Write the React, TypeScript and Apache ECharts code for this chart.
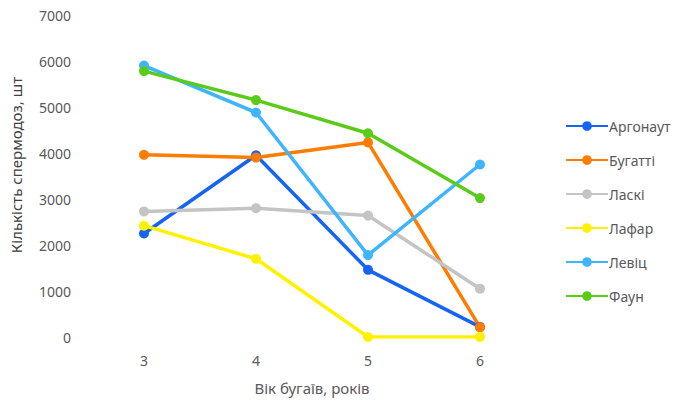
import React, { useEffect, useRef } from "react";
import * as echarts from "echarts";

const categories = ["3", "4", "5", "6"];
const seriesNames = ["Аргонаут", "Бугатті", "Ласкі", "Лафар", "Левіц", "Фаун"];
const argonaut = [2250, 3950, 1460, 220];
const bugatti = [3960, 3900, 4230, 210];
const laski = [2730, 2800, 2640, 1050];
const lafar = [2420, 1700, 0, 0];
const levits = [5900, 4880, 1780, 3750];
const faun = [5780, 5150, 4430, 3020];
const seriesData = [argonaut, bugatti, laski, lafar, levits, faun];
const colors = ["#1565F2", "#FF7C00", "#C4C4C4", "#FFF200", "#3DB5FF", "#5BCB1A"];

const FONT = "'Noto Sans', sans-serif";

export default function App() {
  const ref = useRef<HTMLDivElement>(null);
  useEffect(() => {
    if (!ref.current) return;
    const chart = echarts.init(ref.current, null, { renderer: "svg" });
    chart.setOption({
      animation: false,
      backgroundColor: "#ffffff",
      textStyle: { fontFamily: FONT },
      grid: { left: 88, right: 145, top: 15, bottom: 66, containLabel: false },
      legend: {
        orient: "vertical",
        left: 560,
        top: 114,
        itemWidth: 42,
        itemHeight: 12,
        itemGap: 20,
        textStyle: { fontFamily: FONT, fontSize: 14, color: "#595959", padding: [0, 0, 0, -4] },
        data: seriesNames,
      },
      xAxis: {
        type: "category",
        data: categories,
        boundaryGap: true,
        axisLine: { show: false },
        axisTick: { show: false },
        axisLabel: { color: "#595959", fontSize: 14, margin: 16, fontFamily: FONT },
        name: "Вік бугаїв, років",
        nameLocation: "middle",
        nameGap: 43,
        nameTextStyle: { color: "#595959", fontSize: 15, fontFamily: FONT },
      },
      yAxis: {
        type: "value",
        min: 0,
        max: 7000,
        interval: 1000,
        splitLine: { show: false },
        axisLine: { show: false },
        axisTick: { show: false },
        axisLabel: {
          color: "#595959",
          fontSize: 14,
          margin: 17,
          fontFamily: FONT,
          formatter: (v: number) => String(v),
        },
      },
      graphic: [
        {
          type: "text",
          x: 16,
          y: 165,
          rotation: Math.PI / 2,
          style: {
            text: "Кількість спермодоз, шт",
            fill: "#404040",
            fontSize: 15,
            fontFamily: FONT,
            textAlign: "center",
            textVerticalAlign: "middle",
          },
        },
      ],
      series: seriesNames.map((name, i) => ({
        name,
        type: "line",
        data: seriesData[i],
        symbol: "circle",
        symbolSize: 10,
        lineStyle: { width: 3.5, color: colors[i] },
        itemStyle: { color: colors[i] },
        emphasis: { disabled: true },
      })),
    });
    return () => chart.dispose();
  }, []);
  return <div ref={ref} style={{ width: 681, height: 403, position: "absolute", left: 0, top: 0 }} />;
}
